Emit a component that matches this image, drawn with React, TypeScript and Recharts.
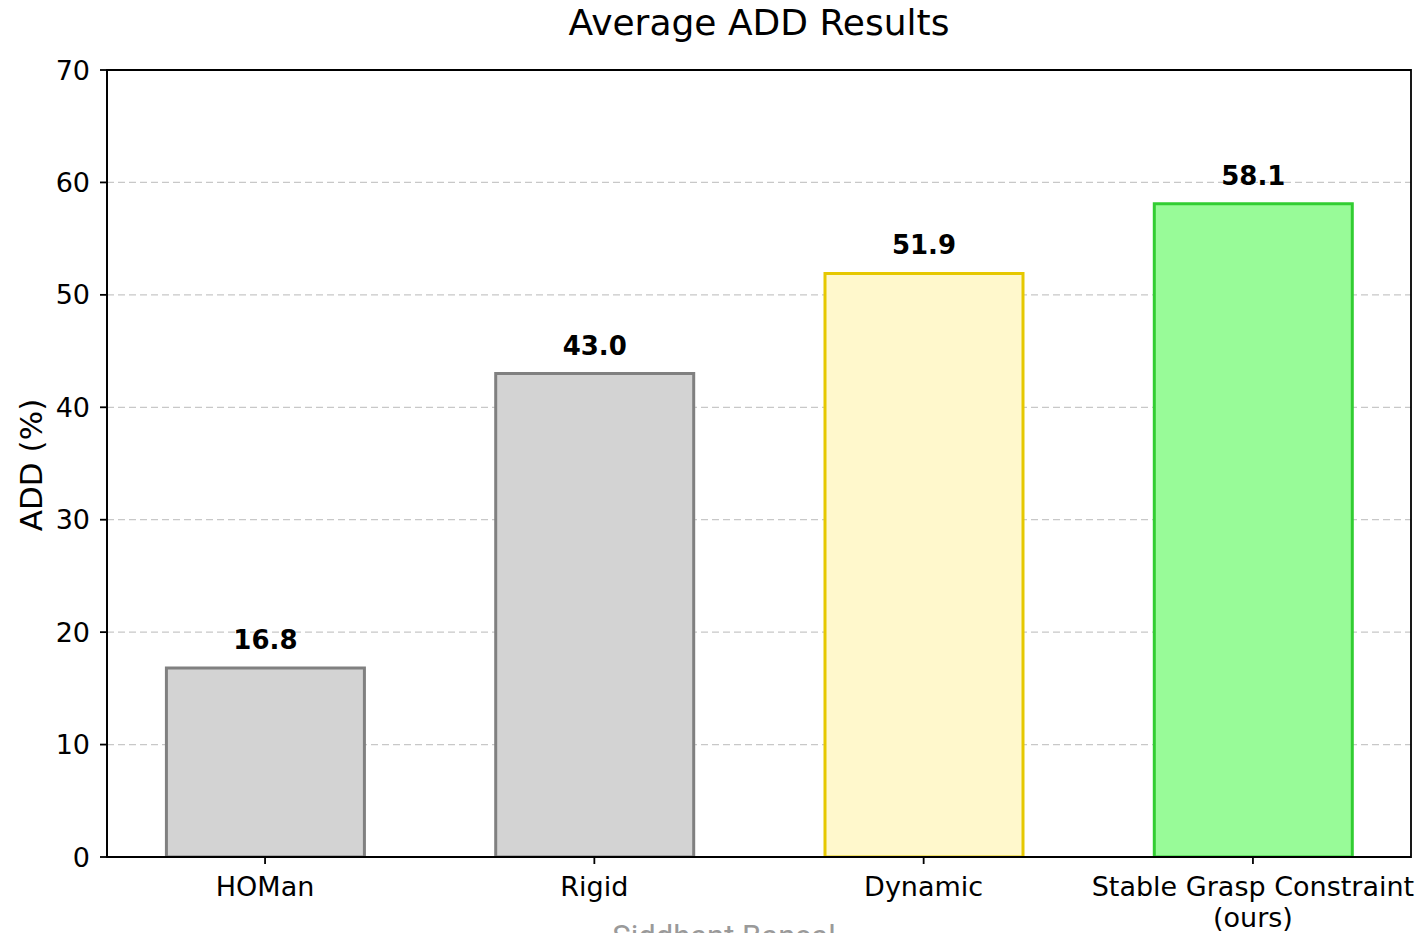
import React from 'react';
import { BarChart, Bar, XAxis, YAxis, CartesianGrid, Cell, LabelList, ReferenceArea } from 'recharts';

const categories = ['HOMan', 'Rigid', 'Dynamic', 'Stable Grasp Constraint\n(ours)'];
const addValues = [16.8, 43.0, 51.9, 58.1];
const fillColors = ['#d3d3d3', '#d3d3d3', '#fff8cc', '#98fb98'];
const edgeColors = ['#808080', '#808080', '#e6c800', '#32cd32'];
const yTicks = [0, 10, 20, 30, 40, 50, 60, 70];
const xPositions = [0, 1, 2, 3];

const data = categories.map((c, i) => ({ x: xPositions[i], name: c, value: addValues[i] }));

const FONT = '"DejaVu Sans", sans-serif';

const XTick = (props: any) => {
  const { x, y, payload } = props;
  const label = categories[Math.round(payload.value)] || '';
  const lines = label.split('\n');
  return (
    <g>
      {lines.map((ln, i) => (
        <text
          key={i}
          x={x}
          y={y}
          dy={32 + i * 31}
          textAnchor="middle"
          fontFamily={FONT}
          fontSize={27}
          fill="#000"
        >
          {ln}
        </text>
      ))}
    </g>
  );
};

export default function App() {
  return (
    <div style={{ position: 'absolute', left: 0, top: 0, width: 1423, height: 933, background: '#fff', overflow: 'hidden' }}>
      <BarChart
        width={1423}
        height={933}
        data={data}
        margin={{ top: 70, right: 12, bottom: 0, left: 0 }}
      >
        <CartesianGrid
          horizontal={true}
          vertical={false}
          stroke="#c8c8c8"
          strokeDasharray="7 4"
          strokeWidth={1.2}
        />
        <XAxis
          dataKey="x"
          type="number"
          domain={[-0.48, 3.48]}
          ticks={xPositions}
          interval={0}
          height={76}
          tickSize={7}
          tickMargin={0}
          tick={<XTick />}
          axisLine={{ stroke: '#000', strokeWidth: 1.8 }}
          tickLine={{ stroke: '#000', strokeWidth: 1.8 }}
          allowDataOverflow
        />
        <YAxis
          type="number"
          domain={[0, 70]}
          ticks={yTicks}
          interval={0}
          width={107}
          tickSize={7}
          tickMargin={10}
          tick={{ fontFamily: FONT, fontSize: 27, fill: '#000', dy: 0 }}
          axisLine={{ stroke: '#000', strokeWidth: 1.8 }}
          tickLine={{ stroke: '#000', strokeWidth: 1.8 }}
          allowDataOverflow
        />
        <Bar dataKey="value" barSize={198} isAnimationActive={false} strokeWidth={3}>
          {data.map((d, i) => (
            <Cell key={i} fill={fillColors[i]} stroke={edgeColors[i]} />
          ))}
          <LabelList
            dataKey="value"
            position="top"
            offset={19}
            formatter={(v: any) => Number(v).toFixed(1)}
            style={{ fontFamily: FONT, fontSize: 26, fontWeight: 'bold', fill: '#000' }}
          />
        </Bar>
        <ReferenceArea
          x1={-0.48}
          x2={3.48}
          y1={0}
          y2={70}
          fill="none"
          fillOpacity={0}
          stroke="#000"
          strokeWidth={1.8}
          ifOverflow="visible"
        />
      </BarChart>
      <svg width={1423} height={933} style={{ position: 'absolute', left: 0, top: 0, pointerEvents: 'none' }}>
        <text x={759} y={35} textAnchor="middle" fontFamily={FONT} fontSize={36} fill="#000">
          Average ADD Results
        </text>
        <text
          x={0}
          y={0}
          transform="translate(42,465) rotate(-90)"
          textAnchor="middle"
          fontFamily={FONT}
          fontSize={31}
          fill="#000"
        >
          ADD (%)
        </text>
        <text x={724} y={947} textAnchor="middle" fontFamily="Roboto, sans-serif" fontSize={31} fill="#9a9a9a">
          Siddhant Bansal
        </text>
      </svg>
    </div>
  );
}
